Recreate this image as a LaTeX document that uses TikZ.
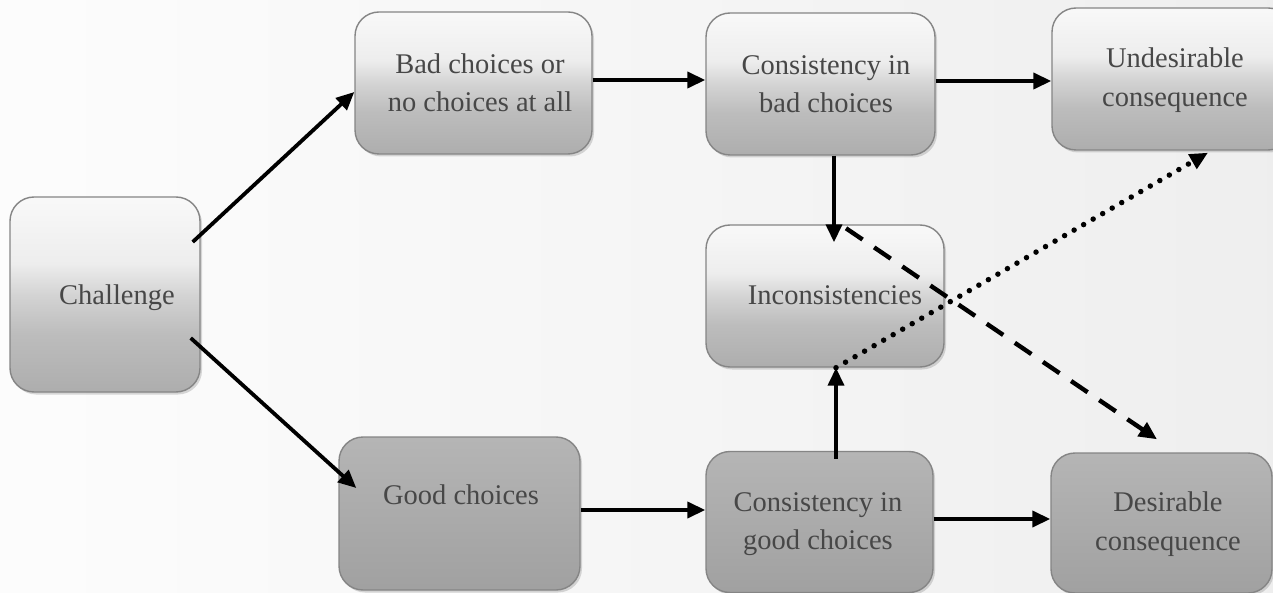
\documentclass[tikz,border=0pt]{standalone}
\usepackage{fontspec}
\setmainfont{Liberation Serif}
\usetikzlibrary{arrows.meta,shadows,calc}
\pgfdeclareverticalshading{lightshade}{100bp}{color(0bp)=(gray!64); color(25bp)=(gray!64); color(40bp)=(gray!52); color(50bp)=(gray!34); color(58bp)=(gray!14); color(75bp)=(gray!5); color(100bp)=(gray!5)}
\pgfdeclareverticalshading{darkshade}{100bp}{color(0bp)=(gray!74); color(25bp)=(gray!74); color(75bp)=(gray!58); color(100bp)=(gray!58)}
\tikzset{
  box/.style={draw=black!48, line width=1.4pt, rounded corners=24pt,
    drop shadow={opacity=0.3, shadow xshift=2pt, shadow yshift=-2.5pt}},
  lightbox/.style={box, shading=lightshade},
  darkbox/.style={box, shading=darkshade},
  txt/.style={align=center, text=black!72, font=\fontsize{28.5}{38.5}\selectfont},
  arr/.style={line width=3.8pt, -{Triangle[length=18pt,width=16pt]}},
  dasharr/.style={line width=4.4pt, dash pattern=on 20pt off 14pt, -{Triangle[length=18pt,width=16pt]}},
  dotarr/.style={line width=5.5pt, line cap=round, dash pattern=on 0pt off 11pt, -{Triangle[length=18pt,width=16pt]}}
}
\begin{document}
\begin{tikzpicture}[x=1pt,y=-1pt]
\useasboundingbox (0,0) rectangle (1273,593);
\shade[left color=gray!2, right color=gray!13] (0,0) rectangle (1273,593);

\node[lightbox, minimum width=190pt, minimum height=195pt] (ch) at (105,294.5) {};
\node[lightbox, minimum width=237pt, minimum height=142pt] (bad) at (473.5,83) {};
\node[lightbox, minimum width=229pt, minimum height=142pt] (cbad) at (820.5,84) {};
\node[lightbox, minimum width=240pt, minimum height=142pt] (und) at (1172,79) {};
\node[lightbox, minimum width=238pt, minimum height=142pt] (inc) at (825,296) {};
\node[darkbox, minimum width=241pt, minimum height=153pt] (good) at (459.5,513.5) {};
\node[darkbox, minimum width=227pt, minimum height=141pt] (cgood) at (819.5,522) {};
\node[darkbox, minimum width=221pt, minimum height=140pt] (des) at (1161.5,523) {};

\node[txt] (cht) at (117,298) {Challenge};
\node[txt] (badt) at (480,83) {Bad choices or\\no choices at all};
\node[txt] (cbadt) at (826,84) {Consistency in\\bad choices};
\node[txt] (undt) at (1175,80) {Undesirable\\consequence};
\node[txt] (inct) at (835,295) {Inconsistencies};
\node[txt] (goodt) at (461,495) {Good choices};
\node[txt] (cgoodt) at (818,524) {Consistency in\\good choices};
\node[txt] (dest) at (1168,524) {Desirable\\consequence};

\draw[arr] ($(ch.east)+(-8,-52.5)$) -- ($(bad.west)+(0,9)$);
\draw[arr] ($(ch.east)+(-10,43.5)$) -- ($(good.west)+(18,-25.5)$);
\draw[arr] ($(bad.east)+(0,-3)$) -- ($(cbad.west)+(0,-4)$);
\draw[arr] ($(cbad.east)+(0,-3)$) -- ($(und.west)+(0,2)$);
\draw[arr] ($(good.east)+(0,-3.5)$) -- ($(cgood.west)+(0,-12)$);
\draw[arr] ($(cgood.east)+(0,-3)$) -- ($(des.west)+(0,-4)$);
\draw[arr] ($(cbad.south)+(13.5,0)$) -- ($(inc.north)+(9,18)$);
\draw[arr] ($(cgood.north)+(16.5,8)$) -- ($(inc.south)+(11,0)$);
\draw[dasharr] ($(inc.north)+(21,4)$) -- ($(des.north)+(-4.5,-13)$);
\draw[dotarr] ($(inc.south)+(11,0)$) -- ($(und.south)+(36,2)$);
\end{tikzpicture}
\end{document}
